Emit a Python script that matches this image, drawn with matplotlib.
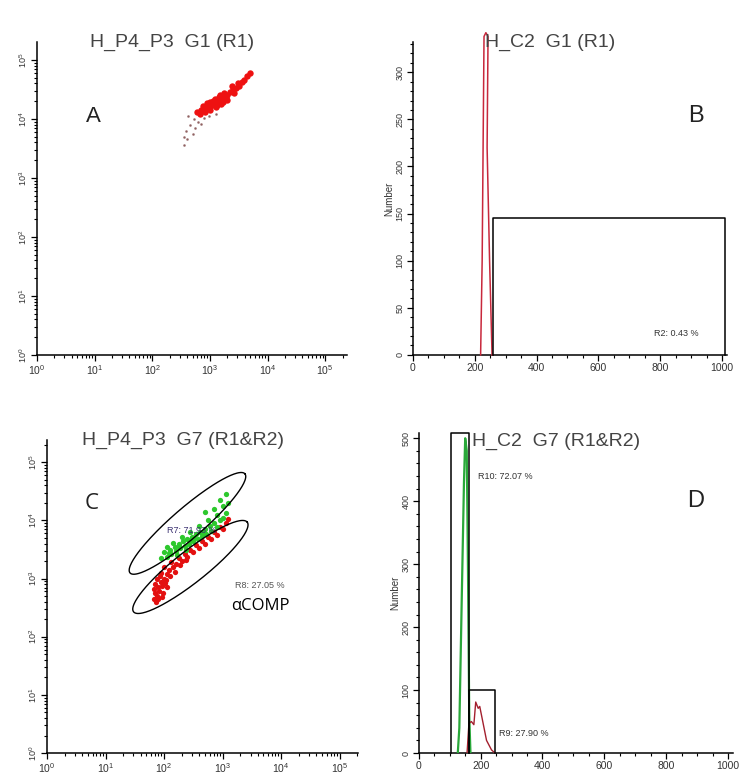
import numpy as np
import matplotlib
matplotlib.use("Agg")
import matplotlib.pyplot as plt
from matplotlib.ticker import MultipleLocator, LogLocator, NullFormatter

plt.rcParams['font.family'] = ['Liberation Sans', 'DejaVu Sans']
plt.rcParams['mathtext.default'] = 'regular'

#====================== data ======================
# panel A - H_P4_P3 G1 (R1), values are log10 of the channel
a_red_logx = [2.85, 2.90, 2.95, 3.00, 3.05, 3.10, 3.15, 3.20, 3.25, 3.30,
              2.88, 2.95, 3.00, 3.05, 3.10, 3.15, 3.20, 3.25, 3.30, 3.00,
              2.92, 3.08, 3.18, 3.35, 3.40, 3.45, 3.50, 3.42, 3.48, 3.38,
              3.55, 3.60, 3.65, 3.70, 2.78, 2.82, 2.98, 3.12, 3.22, 3.28]
a_red_logy = [4.15, 4.18, 4.20, 4.22, 4.24, 4.27, 4.30, 4.33, 4.36, 4.40,
              4.22, 4.27, 4.15, 4.30, 4.20, 4.37, 4.25, 4.43, 4.32, 4.28,
              4.12, 4.34, 4.40, 4.45, 4.50, 4.52, 4.55, 4.44, 4.60, 4.55,
              4.62, 4.65, 4.72, 4.78, 4.12, 4.08, 4.18, 4.24, 4.29, 4.35]
a_dots_logx = [2.55, 2.60, 2.58, 2.65, 2.70, 2.72, 2.80, 2.90, 2.62, 2.75,
               2.85, 2.55, 3.10, 2.98]
a_dots_logy = [3.55, 3.65, 3.80, 3.90, 3.75, 4.00, 3.95, 4.02, 4.05, 3.85,
               3.92, 3.70, 4.08, 4.05]

# panel B - H_C2 G1 (R1) histogram
b_channel = [219, 224, 227, 230, 236, 243, 240, 248, 256]
b_count = [0, 100, 220, 338, 342, 338, 220, 100, 0]
b_gate = [258, 1010, 145]          # R2: left, right, top
b_gate_label = "R2: 0.43 %"

# panel C - H_P4_P3 G7 (R1&R2)
c_green_logx = [1.95, 2.00, 2.05, 2.10, 2.12, 2.18, 2.20, 2.25, 2.28, 2.32,
                2.35, 2.40, 2.42, 2.48, 2.50, 2.55, 2.58, 2.62, 2.65, 2.70,
                2.72, 2.78, 2.80, 2.85, 2.90, 2.95, 3.00, 3.05, 2.15, 2.30,
                2.45, 2.60, 2.75, 2.90, 3.00, 2.95, 3.05, 2.85, 2.70, 3.10,
                2.05, 2.22, 2.38, 2.08, 2.26, 2.44, 2.52, 2.68]
c_green_logy = [3.35, 3.45, 3.38, 3.50, 3.42, 3.55, 3.47, 3.60, 3.52, 3.65,
                3.56, 3.68, 3.60, 3.72, 3.64, 3.76, 3.68, 3.80, 3.73, 3.85,
                3.77, 3.90, 3.82, 3.95, 3.88, 4.00, 4.05, 4.12, 3.62, 3.72,
                3.80, 3.90, 4.00, 4.10, 4.25, 4.35, 4.45, 4.20, 4.15, 4.30,
                3.55, 3.40, 3.50, 3.44, 3.56, 3.66, 3.70, 3.80]
c_red_logx = [1.82, 1.85, 1.88, 1.90, 1.92, 1.95, 1.97, 1.85, 1.88, 2.00,
              2.02, 2.05, 1.95, 2.08, 2.10, 2.00, 2.15, 2.12, 2.20, 2.25,
              2.30, 2.35, 2.40, 2.45, 2.50, 2.55, 2.60, 2.65, 2.70, 2.75,
              2.80, 2.85, 2.90, 2.95, 3.00, 3.05, 3.10, 1.90, 1.98, 2.05,
              1.83, 1.93, 1.87, 1.96, 2.03, 2.18, 2.28, 2.38]
c_red_logy = [2.65, 2.75, 2.70, 2.85, 2.78, 2.95, 2.88, 2.90, 3.00, 3.00,
              2.92, 3.08, 3.10, 3.15, 3.05, 3.20, 3.20, 3.28, 3.25, 3.35,
              3.30, 3.42, 3.38, 3.50, 3.45, 3.58, 3.52, 3.65, 3.60, 3.72,
              3.68, 3.80, 3.75, 3.88, 3.85, 3.95, 4.02, 2.65, 2.75, 2.85,
              2.82, 3.05, 2.60, 2.68, 2.98, 3.12, 3.24, 3.32]
# elliptic gates R7 / R8: centre (log x, log y), half length, half width, angle
c_gate_cx = [2.40, 2.45]
c_gate_cy = [3.95, 3.20]
c_gate_a = [1.30, 1.24]
c_gate_b = [0.26, 0.27]
c_gate_ang = [41.0, 38.5]
c_gate_labels = ["R7: 71.93 %", "R8: 27.05 %"]

# panel D - H_C2 G7 (R1&R2)
d_green_channel = [126, 131, 139, 146, 150, 155, 159, 163, 167]
d_green_count = [0, 40, 250, 430, 500, 480, 290, 60, 0]
d_red_channel = [156, 162, 170, 178, 184, 192, 197, 208, 219, 235, 246]
d_red_count = [0, 47, 50, 45, 81, 71, 74, 47, 20, 5, 0]
d_gate_left = [103, 162]
d_gate_right = [162, 246]
d_gate_top = [508, 100]
d_gate_labels = ["R10: 72.07 %", "R9: 27.90 %"]

TXT = "#333333"


def style_axis(ax):
    for side in ["top", "right"]:
        ax.spines[side].set_visible(False)
    for side in ["left", "bottom"]:
        ax.spines[side].set_linewidth(1.1)
    ax.tick_params(which="major", direction="out", length=4, width=0.9, colors="black",
                   labelcolor=TXT, pad=2)
    ax.tick_params(which="minor", direction="out", length=2.2, width=0.8)
    ax.tick_params(axis="y", labelrotation=90, labelsize=6.5)
    ax.tick_params(axis="x", labelsize=7.5)
    for lab in ax.get_yticklabels():
        lab.set_va("center")


def log_axis(ax, xtop, ytop):
    ax.set_xscale("log")
    ax.set_yscale("log")
    ax.set_xlim(1, 10 ** xtop)
    ax.set_ylim(1, 10 ** ytop)
    for axis in [ax.xaxis, ax.yaxis]:
        axis.set_major_locator(LogLocator(base=10, numticks=10))
        axis.set_minor_locator(LogLocator(base=10, subs=np.arange(2, 10), numticks=20))
        axis.set_minor_formatter(NullFormatter())
    style_axis(ax)


def lin_axis(ax, ytop, ymajor, yminor):
    ax.set_xlim(0, 1015)
    ax.set_ylim(0, ytop)
    ax.xaxis.set_major_locator(MultipleLocator(200))
    ax.xaxis.set_minor_locator(MultipleLocator(50))
    ax.yaxis.set_major_locator(MultipleLocator(ymajor))
    ax.yaxis.set_minor_locator(MultipleLocator(yminor))
    ax.set_ylabel("Number", fontsize=7, labelpad=1, color=TXT)
    style_axis(ax)


def gate_box(ax, left, right, top):
    ax.plot([left, left, right, right], [0, top, top, 0], color="black", lw=1.1,
            clip_on=False, zorder=4)


def ellipse_gate(ax, cx, cy, a, b, ang):
    t = np.linspace(0, 2 * np.pi, 200)
    th = np.radians(ang)
    ex = cx + a * np.cos(t) * np.cos(th) - b * np.sin(t) * np.sin(th)
    ey = cy + a * np.cos(t) * np.sin(th) + b * np.sin(t) * np.cos(th)
    ax.plot(10 ** ex, 10 ** ey, color="black", lw=1.0, zorder=4)


fig = plt.figure(figsize=(7.4, 7.8), dpi=100)

#====================== A ======================
ax_a = fig.add_axes([0.050, 0.545, 0.419, 0.401])
log_axis(ax_a, 5.38, 5.30)
ax_a.plot(10 ** np.array(a_dots_logx), 10 ** np.array(a_dots_logy), ".", ms=1.8,
          color="#8a5a5a", alpha=0.8)
ax_a.plot(10 ** np.array(a_red_logx), 10 ** np.array(a_red_logy), "o", ms=4.6,
          color="#ee1111", mec="none")
fig.text(0.232, 0.946, "H_P4_P3  G1 (R1)", ha="center", va="center", fontsize=14, color="#444444")
fig.text(0.126, 0.850, "A", ha="center", va="center", fontsize=16, color="#222222")

#====================== B ======================
ax_b = fig.add_axes([0.558, 0.545, 0.424, 0.401])
lin_axis(ax_b, 332, 50, 10)
ax_b.plot(b_channel, b_count, color="#c8283c", lw=1.1, clip_on=False, zorder=3)
gate_box(ax_b, b_gate[0], b_gate[1], b_gate[2])
ax_b.text(781, 23, b_gate_label, fontsize=6.5, color=TXT, va="center")
fig.text(0.744, 0.946, "H_C2  G1 (R1)", ha="center", va="center", fontsize=14, color="#444444")
fig.text(0.940, 0.851, "B", ha="center", va="center", fontsize=17, color="#222222")

#====================== C ======================
ax_c = fig.add_axes([0.0635, 0.0346, 0.420, 0.401])
log_axis(ax_c, 5.31, 5.38)
ax_c.plot(10 ** np.array(c_red_logx), 10 ** np.array(c_red_logy), "o", ms=3.8,
          color="#e31010", mec="none")
ax_c.plot(10 ** np.array(c_green_logx), 10 ** np.array(c_green_logy), "o", ms=3.8,
          color="#2dc82d", mec="none")
for i in range(len(c_gate_cx)):
    ellipse_gate(ax_c, c_gate_cx[i], c_gate_cy[i], c_gate_a[i], c_gate_b[i], c_gate_ang[i])
ax_c.text(10 ** 2.05, 10 ** 3.82, c_gate_labels[0], fontsize=6.5, color="#3a3070", va="center")
ax_c.text(10 ** 3.21, 10 ** 2.88, c_gate_labels[1], fontsize=6.5, color="#555555", va="center")
ax_c.text(10 ** 3.15, 10 ** 2.53, "\u03b1COMP", fontsize=12, color="black", va="center",
          family=["Open Sans", "DejaVu Sans"])
fig.text(0.247, 0.435, "H_P4_P3  G7 (R1&R2)", ha="center", va="center", fontsize=14, color="#444444")
fig.text(0.124, 0.355, "C", ha="center", va="center", fontsize=16, color="#222222",
         family=["Open Sans", "DejaVu Sans"])

#====================== D ======================
ax_d = fig.add_axes([0.566, 0.0346, 0.424, 0.410])
lin_axis(ax_d, 508, 100, 20)
ax_d.plot(d_green_channel, d_green_count, color="#2aa83a", lw=1.6, zorder=3)
ax_d.plot(d_red_channel, d_red_count, color="#a3202e", lw=1.0, zorder=3)
for i in range(len(d_gate_left)):
    gate_box(ax_d, d_gate_left[i], d_gate_right[i], d_gate_top[i])
ax_d.text(192, 440, d_gate_labels[0], fontsize=6.5, color=TXT, va="center")
ax_d.text(260, 31, d_gate_labels[1], fontsize=6.5, color=TXT, va="center")
fig.text(0.752, 0.434, "H_C2  G7 (R1&R2)", ha="center", va="center", fontsize=14, color="#444444")
fig.text(0.940, 0.358, "D", ha="center", va="center", fontsize=17, color="#222222")

fig.savefig("out.png", dpi=100)
